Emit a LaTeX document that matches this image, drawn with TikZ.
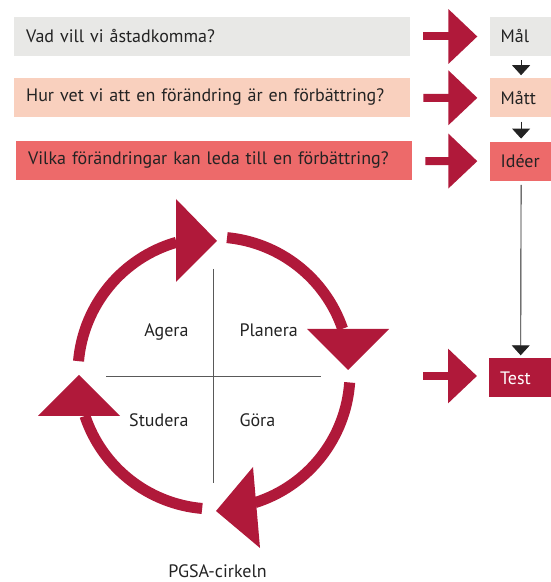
\documentclass[tikz,border=0pt]{standalone}
\usepackage{fontspec}
\setmainfont{PT Sans}
\usetikzlibrary{positioning,arrows.meta}

\definecolor{pdsared}{RGB}{176,25,58}
\definecolor{goalgrey}{RGB}{232,232,230}
\definecolor{measurepeach}{RGB}{249,208,190}
\definecolor{ideasalmon}{RGB}{237,106,106}
\definecolor{inktext}{RGB}{35,35,35}

\begin{document}
\begin{tikzpicture}
		[x=1pt,y=1pt,
		%Styles
		every node/.style={font=\fontsize{18}{21}\selectfont,text=inktext},
		question/.style={anchor=west,minimum height=39pt,text width=372pt,inner xsep=12pt,align=left},
		answer/.style={anchor=west,minimum height=39pt,text width=41pt,inner xsep=11pt,align=left},
		bigarrow/.style={draw=pdsared,line width=8pt,-{Triangle[width=53pt,length=29pt]},shorten <=13pt,shorten >=12pt},
		smallarrow/.style={draw=inktext,line width=0.9pt,-{Triangle[width=18pt,length=10pt]},shorten <=4pt,shorten >=3pt},
		cyclearc/.style={draw=pdsared,line width=11pt},
		cyclehead/.style={fill=pdsared},
		crossline/.style={draw=black!65,line width=0.8pt}
		]
		\useasboundingbox (0,0) rectangle (550,582);
		
		%Questions and answers
		\node[question,fill=goalgrey] (q1) at (14,545.5) {Vad vill vi åstadkomma?};
		\node[question,fill=measurepeach] (q2) at (14,484.5) {Hur vet vi att en förändring är en förbättring?};
		\node[question,fill=ideasalmon] (q3) at (16,421.5) {Vilka förändringar kan leda till en förbättring?};
		
		\node[answer,fill=goalgrey,right=79pt of q1] (m1) {Mål};
		\node[answer,fill=measurepeach,below=22pt of m1] (m2) {Mått};
		\node[answer,fill=ideasalmon,below=24pt of m2] (m3) {Idéer};
		\node[answer,fill=pdsared,text=white] (test) at (489,204) {Test};
		
		\draw[bigarrow] (q1) -- (m1);
		\draw[bigarrow] (q2) -- (m2);
		\draw[bigarrow] (q3) -- (m3);
		\coordinate (tin) at (423,206);
		\draw[bigarrow,shorten <=0pt] (tin) -- (tin -| test.west);
		
		\draw[smallarrow] (m1.south) -- (m2.north);
		\draw[smallarrow] (m2.south) -- (m3.north);
		\draw[smallarrow] (m3.south) -- (test.north);
		
		%The cycle
		\coordinate (ring) at (214,209);
		\coordinate (O) at (213,206);
		
		\draw[crossline] (106,206) -- (321,206);
		\draw[crossline] (213,313) -- (213,99);
		
		\draw[cyclearc] ([shift={(175:136)}]ring) arc[start angle=175,end angle=106,radius=136];
		\fill[cyclehead] (176,383) -- (217,341) -- (176,300) -- cycle;
		\draw[cyclearc] ([shift={(84.5:136)}]ring) arc[start angle=84.5,end angle=19,radius=136];
		\fill[cyclehead] (307,253) -- (348,212) -- (389,253) -- cycle;
		\draw[cyclearc] ([shift={(-4:136)}]ring) arc[start angle=-4,end angle=-72.5,radius=136];
		\fill[cyclehead] (253,115) -- (216,71) -- (260,34) -- cycle;
		\draw[cyclearc] ([shift={(265:136)}]ring) arc[start angle=265,end angle=198.4,radius=136];
		\fill[cyclehead] (38,166) -- (79,207) -- (120,166) -- cycle;
		
		\node[anchor=base east] (agera) at ([shift={(-21,39)}]O) {Agera};
		\node[anchor=base west] (planera) at ([shift={(23,39)}]O) {Planera};
		\node[anchor=base east] (studera) at ([shift={(-21,-51)}]O) {Studera};
		\node[anchor=base west] (gora) at ([shift={(23,-51)}]O) {Göra};
		
		\node[anchor=base,inner sep=0pt] (pgsa) at (217.5,5) {PGSA-cirkeln};
	\end{tikzpicture}
\end{document}
